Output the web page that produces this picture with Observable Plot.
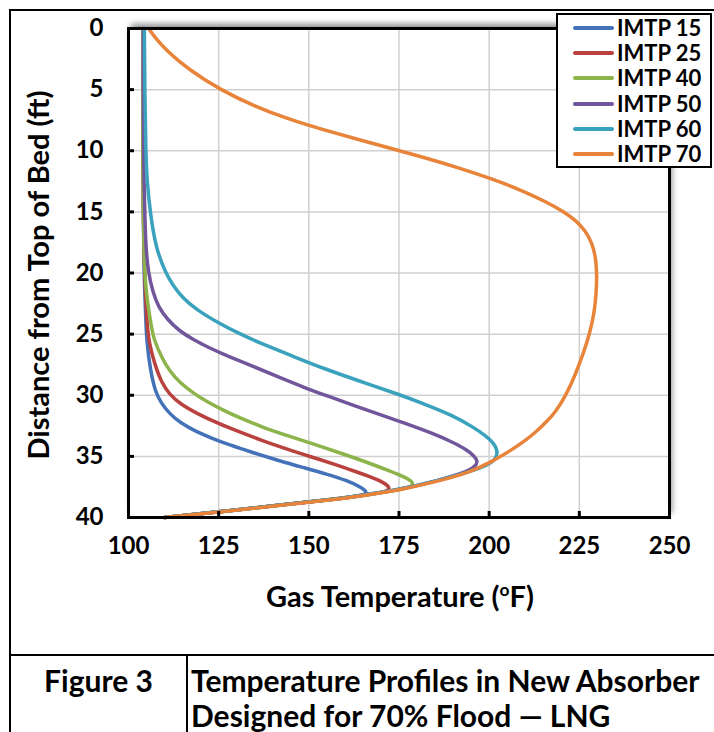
<!DOCTYPE html>
<html><head><meta charset="utf-8">
<script src="https://cdn.jsdelivr.net/npm/d3@7"></script>
<script src="https://cdn.jsdelivr.net/npm/@observablehq/plot@0.6"></script>
<style>
body{margin:0;background:#fff;}
#wrap{position:relative;width:714px;height:732px;overflow:hidden;font-family:Lato,"Open Sans",sans-serif;font-weight:700;color:#000;background:#fff}
.abs{position:absolute}
.hl{position:absolute;background:#000}
#ytitle{left:37px;top:275px;transform:translate(-50%,-50%) rotate(-90deg);white-space:nowrap;font-size:29px}
#xtitle{left:400px;top:595px;transform:translate(-50%,-50%);white-space:nowrap;font-size:29px}
#xtitle sup{font-size:0.6em;vertical-align:0.6em;line-height:0}
#legend{left:556px;top:13px;width:156px;height:155px;border:2px solid #000;background:#fff;box-sizing:border-box}
.lrow{position:absolute;left:0;height:25px;width:150px}
.lline{position:absolute;left:15px;top:11px;width:41px;height:4px;border-radius:2px}
.ltext{position:absolute;left:59px;top:0;font-size:22px;line-height:25px;white-space:nowrap}
.cap{position:absolute;font-size:30px;line-height:28px;white-space:nowrap}
</style></head><body>
<div id="wrap">
  <div id="shadow" class="abs" style="left:128px;top:28px;width:541px;height:489px;box-shadow:3px -4px 6px rgba(0,0,0,0.45)"></div>
  <div id="chart" class="abs" style="left:0;top:0"></div>
  <div id="ytitle" class="abs">Distance from Top of Bed (ft)</div>
  <div id="xtitle" class="abs">Gas Temperature (<sup>o</sup>F)</div>
  <div id="legend" class="abs"></div>
  <div class="hl" style="left:9px;top:9px;width:705px;height:2px"></div>
  <div class="hl" style="left:9px;top:9px;width:2px;height:723px"></div>
  <div class="hl" style="left:9px;top:654px;width:705px;height:2px"></div>
  <div class="hl" style="left:186px;top:654px;width:2px;height:78px"></div>
  <div class="cap" style="left:11px;width:175px;top:666px;text-align:center">Figure 3</div>
  <div class="cap" style="left:191px;top:666px">Temperature Profiles in New Absorber</div>
  <div class="cap" style="left:191px;top:701px">Designed for 70% Flood — LNG</div>
</div>
<script>
// ---- data ----
const seriesNames = ["IMTP 15", "IMTP 25", "IMTP 40", "IMTP 50", "IMTP 60", "IMTP 70"];
const seriesColors = ["#4472B8", "#B9423F", "#8DB44A", "#72569C", "#3AA2BD", "#E8843A"];
const xTicks = [100, 125, 150, 175, 200, 225, 250];
const yTicks = [0, 5, 10, 15, 20, 25, 30, 35, 40];

// [depth (ft), gas temperature (°F)]
const imtp15 = [[0,104.0],[5,104.0],[10,104.0],[15,104.1],[20,104.3],[23,104.7],[25.6,105.0],[28,106.1],[29.7,107.4],[30.6,109.0],[31.5,111.3],[32.3,114.6],[32.95,118.6],[33.5,123.0],[34.05,127.8],[34.7,134.6],[35.35,141.7],[35.9,148.3],[36.45,155.0],[37.0,160.8],[37.5,164.3],[37.9,166.2],[38.15,165.5],[38.35,161.5],[38.65,152.6],[39.0,141.7],[39.5,126.0],[40,110]];
const imtp25 = [[0,104.0],[5,104.0],[10,104.0],[15,104.1],[20,104.4],[24,105.1],[25.6,105.6],[27.5,107.3],[29,109.2],[30,111.6],[30.7,114.3],[31.5,119.0],[32.3,124.8],[33.0,130.8],[33.7,137.0],[34.3,142.9],[34.8,148.0],[35.3,153.5],[35.8,158.6],[36.2,162.6],[36.7,167.3],[37.1,170.5],[37.55,172.6],[37.85,171.8],[38.05,168.5],[38.3,163.0],[38.65,152.6],[39.0,141.7],[39.5,126.0],[40,110]];
const imtp40 = [[0,104.0],[5,104.0],[10,104.0],[15,104.1],[18,104.3],[20.6,104.6],[22.5,105.3],[24.5,106.4],[25.5,107.1],[26.9,109.2],[28,111.3],[29,114.3],[29.9,118.3],[30.5,121.6],[31.2,126.0],[31.9,131.2],[32.6,137.0],[33.3,144.0],[34.0,151.5],[34.8,159.5],[35.5,166.3],[36.2,172.5],[36.7,176.6],[37.1,178.9],[37.45,178.8],[37.75,175.3],[38.2,164.8],[38.65,152.6],[39.0,141.7],[39.5,126.0],[40,110]];
const imtp50 = [[0,104.1],[5,104.1],[10,104.2],[12.4,104.3],[15,104.5],[17.9,104.8],[20,105.5],[21.5,106.7],[22.8,108.3],[23.8,110.8],[24.7,113.9],[25.5,118.2],[26.1,122.2],[26.8,127.5],[27.6,134.3],[28.5,141.5],[29.4,149.0],[30.1,155.5],[30.8,162.2],[31.5,169.0],[32.3,176.8],[33.1,184.2],[33.8,189.6],[34.4,193.5],[35.0,196.0],[35.4,196.8],[35.8,196.3],[36.3,193.6],[37.0,185.5],[37.7,175.3],[38.2,164.8],[38.65,152.6],[39.0,141.7],[39.5,126.0],[40,110]];
const imtp60 = [[0,104.4],[5,104.5],[10,104.8],[12.4,105.1],[15,106.0],[17.9,107.5],[20,110.3],[21,112.3],[22,114.9],[23,118.8],[24.1,125.0],[25,131.0],[25.8,137.0],[27,147.2],[27.8,154.0],[28.8,163.6],[30,175.6],[30.6,181.0],[31.7,190.3],[32.6,195.5],[33.3,199.0],[33.9,201.2],[34.5,202.3],[35.0,202.1],[35.5,200.9],[36.0,197.2],[36.3,193.8],[37.0,185.5],[37.7,175.3],[38.2,164.8],[38.65,152.6],[39.0,141.7],[39.5,126.0],[40,110]];
const imtp70 = [[0,105.6],[0.8,107.5],[1.8,110.5],[3.3,116.4],[5,125.3],[6.45,135.6],[7.4,144.3],[8.2,153.0],[9.3,166.4],[10.4,180.2],[11.3,190.6],[12.3,200.8],[13.2,208.7],[14.2,216.0],[15,220.8],[15.7,224.0],[16.5,226.6],[17.6,228.6],[18.7,229.5],[19.8,229.8],[21,229.8],[22.3,229.5],[23.6,228.9],[25,227.8],[26.3,226.4],[27.7,224.7],[29,222.9],[30.4,220.5],[31.3,218.5],[32.1,216.2],[33.1,212.6],[33.8,209.6],[34.5,206.1],[35.5,200.3],[36.3,194.6],[37.0,186.2],[37.7,176.0],[38.2,165.5],[38.65,153.3],[39.0,142.4],[39.5,126.6],[40,110]];

const seriesData = [imtp15, imtp25, imtp40, imtp50, imtp60, imtp70];
const rows = [];
seriesData.forEach((pts, i) => pts.forEach(([d, t]) => rows.push({series: seriesNames[i], depth: d, temp: t})));

const chart = Plot.plot({
  width: 714, height: 655,
  marginLeft: 128, marginRight: 45, marginTop: 28, marginBottom: 138,
  style: {background: "transparent", fontFamily: "Lato, 'Open Sans', sans-serif", color: "#000", overflow: "visible"},
  x: {domain: [100, 250]},
  y: {domain: [0, 40], reverse: true},
  color: {domain: seriesNames, range: seriesColors},
  marks: [
    Plot.gridX(xTicks, {stroke: "#d0d0d0", strokeOpacity: 1, strokeWidth: 1.5}),
    Plot.gridY(yTicks, {stroke: "#d0d0d0", strokeOpacity: 1, strokeWidth: 1.5}),
    Plot.line(rows, {x: "temp", y: "depth", z: "series", stroke: "series", strokeWidth: 3.5, curve: "basis"}),
    Plot.frame({stroke: "#000", strokeWidth: 3}),
    Plot.axisX(xTicks, {anchor: "bottom", tickSize: -6, strokeWidth: 3, tickPadding: 25, fontSize: 24, fontWeight: "bold", label: null}),
    Plot.axisY(yTicks, {anchor: "left", tickSize: -6, strokeWidth: 3, tickPadding: 31, fontSize: 24, fontWeight: "bold", label: null})
  ]
});
document.getElementById("chart").appendChild(chart);

// legend
const legend = document.getElementById("legend");
seriesNames.forEach((name, i) => {
  const row = document.createElement("div");
  row.className = "lrow";
  row.style.top = (0 + i * 25.2) + "px";
  const ln = document.createElement("div");
  ln.className = "lline";
  ln.style.background = seriesColors[i];
  const tx = document.createElement("div");
  tx.className = "ltext";
  tx.textContent = name;
  row.appendChild(ln); row.appendChild(tx);
  legend.appendChild(row);
});
</script>
</body></html>
